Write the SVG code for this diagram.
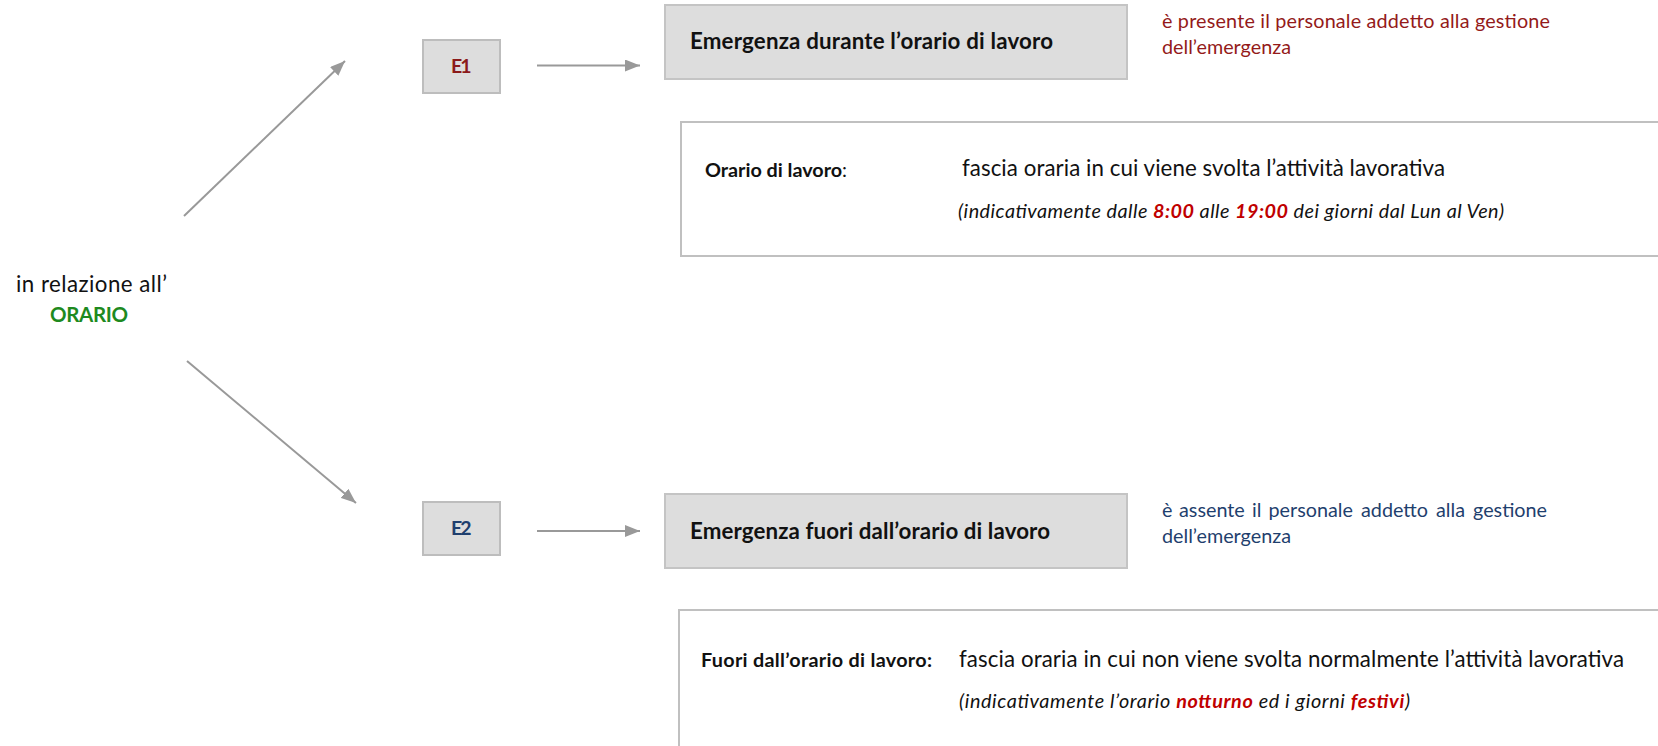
<svg xmlns="http://www.w3.org/2000/svg" width="1658" height="746" viewBox="0 0 1658 746">
<defs>
<marker id="ah" markerUnits="userSpaceOnUse" markerWidth="15" markerHeight="12" refX="15" refY="6" orient="auto">
<path d="M0,0 L15,6 L0,12 z" fill="#999999"/>
</marker>
<style>
text{font-family:Lato,"Liberation Sans",sans-serif;}
.code{fill:#dddddd;stroke:#bdbdbd;stroke-width:2;}
.big{fill:#dddddd;stroke:#c4c4c4;stroke-width:2;}
.def{fill:#ffffff;stroke:#c0c0c0;stroke-width:2;}
.conn{stroke:#999999;stroke-width:2;fill:none;marker-end:url(#ah);}
.title{font-size:22.3px;font-weight:bold;fill:#111111;}
.red{font-size:19.8px;fill:#941a1a;}
.blue{font-size:19.8px;fill:#1f3f6e;}
.lab{font-size:19.8px;font-weight:bold;fill:#111111;}
.desc{font-size:22.3px;fill:#111111;}
.it{font-size:19.8px;font-style:italic;fill:#111111;}
.hl{font-weight:bold;fill:#c00000;}
</style>
</defs>
<g id="connectors">
<line class="conn" x1="184" y1="216" x2="345" y2="61"/>
<line class="conn" x1="187" y1="361" x2="356" y2="503"/>
<line class="conn" x1="537" y1="65.5" x2="640" y2="65.5"/>
<line class="conn" x1="537" y1="531" x2="640" y2="531"/>
</g>
<g id="orario">
<text x="16" y="292" font-size="22.3" fill="#111111" textLength="151">in relazione all’</text>
<text x="50" y="322" font-size="20.5" font-weight="bold" fill="#1e8a1e" textLength="78">ORARIO</text>
</g>
<g id="e1">
<rect class="code" x="423" y="40" width="77" height="53"/>
<text x="451" y="73" font-size="19.5" font-weight="bold" fill="#8b1a1a" textLength="20.5">E1</text>
</g>
<g id="emergenza-durante">
<rect class="big" x="665" y="5" width="462" height="74"/>
<text class="title" x="690" y="49" textLength="363">Emergenza durante l’orario di lavoro</text>
</g>
<g id="nota-e1">
<text class="red" x="1162" y="28" textLength="388">è presente il personale addetto alla gestione</text>
<text class="red" x="1162" y="54">dell’emergenza</text>
</g>
<g id="def-orario">
<rect class="def" x="681" y="122" width="990" height="134"/>
<text x="705" y="177" textLength="142"><tspan class="lab">Orario di lavoro</tspan><tspan font-size="19.8" fill="#111111">:</tspan></text>
<text class="desc" x="962" y="176" textLength="483">fascia oraria in cui viene svolta l’attività lavorativa</text>
<text class="it" x="958" y="218" textLength="546">(indicativamente dalle <tspan class="hl">8:00</tspan> alle <tspan class="hl">19:00</tspan> dei giorni dal Lun al Ven)</text>
</g>
<g id="e2">
<rect class="code" x="423" y="502" width="77" height="53"/>
<text x="451" y="535" font-size="19.5" font-weight="bold" fill="#1f3f6e" textLength="20.5">E2</text>
</g>
<g id="emergenza-fuori">
<rect class="big" x="665" y="494" width="462" height="74"/>
<text class="title" x="690" y="539" textLength="360">Emergenza fuori dall’orario di lavoro</text>
</g>
<g id="nota-e2">
<text class="blue" y="517"><tspan x="1162">è</tspan><tspan x="1179">assente</tspan><tspan x="1252">il</tspan><tspan x="1268.5">personale</tspan><tspan x="1361">addetto</tspan><tspan x="1436">alla</tspan><tspan x="1473">gestione</tspan></text>
<text class="blue" x="1162" y="543">dell’emergenza</text>
</g>
<g id="def-fuori">
<rect class="def" x="679" y="610" width="992" height="150"/>
<text class="lab" x="701" y="667" textLength="231">Fuori dall’orario di lavoro:</text>
<text class="desc" x="959" y="667" textLength="665">fascia oraria in cui non viene svolta normalmente l’attività lavorativa</text>
<text class="it" x="959" y="708" textLength="451">(indicativamente l’orario <tspan class="hl">notturno</tspan> ed i giorni <tspan class="hl">festivi</tspan>)</text>
</g>
</svg>
